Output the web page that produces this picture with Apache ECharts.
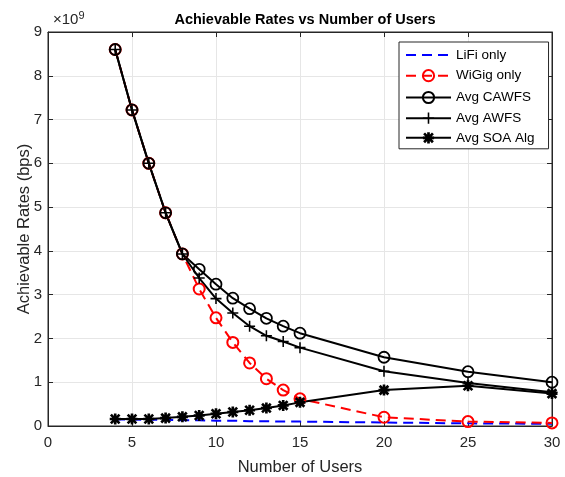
<!DOCTYPE html>
<html>
<head>
<meta charset="utf-8">
<script src="https://cdn.jsdelivr.net/npm/echarts@6/dist/echarts.min.js"></script>
<style>html,body{margin:0;padding:0;background:#fff}#c{width:565px;height:477px}</style>
</head>
<body>
<div id="c"></div>
<script>
var users = [4,5,6,7,8,9,10,11,12,13,14,15,20,25,30];
var lifi   = [0.15e9,0.15e9,0.14e9,0.14e9,0.13e9,0.13e9,0.12e9,0.12e9,0.11e9,0.11e9,0.10e9,0.10e9,0.08e9,0.06e9,0.05e9];
var wigig  = [8.60e9,7.22e9,6.00e9,4.87e9,3.93e9,3.13e9,2.47e9,1.91e9,1.44e9,1.08e9,0.82e9,0.62e9,0.20e9,0.10e9,0.07e9];
var cawfs  = [8.60e9,7.22e9,6.00e9,4.87e9,3.93e9,3.58e9,3.24e9,2.92e9,2.68e9,2.46e9,2.28e9,2.12e9,1.57e9,1.24e9,1.00e9];
var awfs   = [8.60e9,7.22e9,6.00e9,4.87e9,3.93e9,3.38e9,2.91e9,2.58e9,2.28e9,2.06e9,1.93e9,1.79e9,1.25e9,0.98e9,0.77e9];
var soa    = [0.16e9,0.16e9,0.16e9,0.18e9,0.21e9,0.24e9,0.28e9,0.32e9,0.36e9,0.41e9,0.47e9,0.54e9,0.82e9,0.92e9,0.74e9];
var names  = ['LiFi only','WiGig only','Avg CAWFS','Avg AWFS','Avg SOA Alg'];
var xTicks = [0,5,10,15,20,25,30];

function pairs(xs, ys){ return xs.map(function(x,i){ return [x, ys[i]]; }); }

var plusPath = 'path://M4.3,0H5.7V4.3H10V5.7H5.7V10H4.3V5.7H0V4.3H4.3Z';
var starPath = 'path://M0,3.8H10V6.2H0Z M3.8,0H6.2V10H3.8Z M0.2,1.9L1.9,0.2L9.8,8.1L8.1,9.8Z M8.1,0.2L9.8,1.9L1.9,9.8L0.2,8.1Z';

var font = 'Liberation Sans, Arial, Helvetica, sans-serif';
var axisCol = '#262626';
var dash = [10, 6];

var chart = echarts.init(document.getElementById('c'));
chart.setOption({
  animation: false,
  backgroundColor: '#fff',
  title: {
    text: 'Achievable Rates vs Number of Users',
    left: 300, top: 7, textAlign: 'center',
    textStyle: { fontFamily: font, fontSize: 14.5, fontWeight: 'bold', color: '#000' }
  },
  graphic: [{
    type: 'text', left: 53, top: 10,
    style: {
      text: '{a|×10}{b|9}',
      rich: {
        a: { fontFamily: font, fontSize: 15, fill: axisCol },
        b: { fontFamily: font, fontSize: 11, fill: axisCol, verticalAlign: 'top', padding: [0,0,9,0] }
      }
    }
  }],
  grid: { left: 48, right: 13, top: 32, bottom: 51, outerBoundsMode: 'none', containLabel: false,
    show: true, borderColor: axisCol, borderWidth: 1, backgroundColor: '#fff' },
  legend: {
    orient: 'vertical', left: 399, top: 42,
    backgroundColor: '#fff', borderColor: axisCol, borderWidth: 1, borderRadius: 0,
    padding: [6, 14, 4, 6],
    itemWidth: 45, itemHeight: 14, itemGap: 5.6,
    textStyle: { fontFamily: font, fontSize: 13.5, color: '#000' },
    data: [
      { name: names[0], itemStyle: { opacity: 0 } },
      names[1], names[2], names[3], names[4]
    ]
  },
  xAxis: [{
    type: 'value', min: 0, max: 30, interval: 5,
    name: 'Number of Users', nameLocation: 'middle', nameGap: 33, nameMoveOverlap: false,
    nameTextStyle: { fontFamily: font, fontSize: 16.5, color: axisCol },
    axisLine: { show: true, onZero: false, lineStyle: { color: axisCol, width: 1 } },
    axisTick: { show: true, inside: true, length: 5, lineStyle: { color: axisCol } },
    axisLabel: { fontFamily: font, fontSize: 15, color: axisCol, margin: 9,
      formatter: function(v){ return xTicks.indexOf(v) >= 0 ? String(v) : ''; } },
    splitLine: { show: true, lineStyle: { color: '#e6e6e6', width: 1 } }
  }, {
    type: 'value', min: 0, max: 30, interval: 5, position: 'top',
    axisLine: { show: true, onZero: false, lineStyle: { color: axisCol } },
    axisTick: { show: true, inside: true, length: 5, lineStyle: { color: axisCol } },
    axisLabel: { show: false }, splitLine: { show: false }
  }],
  yAxis: [{
    type: 'value', min: 0, max: 9e9, interval: 1e9,
    name: 'Achievable Rates (bps)', nameLocation: 'middle', nameGap: 15, nameMoveOverlap: false,
    nameTextStyle: { fontFamily: font, fontSize: 16.5, color: axisCol },
    axisLine: { show: true, onZero: false, lineStyle: { color: axisCol, width: 1 } },
    axisTick: { show: true, inside: true, length: 5, lineStyle: { color: axisCol } },
    axisLabel: { fontFamily: font, fontSize: 15, color: axisCol, margin: 6,
      formatter: function(v){ return String(Math.round(v / 1e9)); } },
    splitLine: { show: true, lineStyle: { color: '#e6e6e6', width: 1 } }
  }, {
    type: 'value', min: 0, max: 9e9, interval: 1e9, position: 'right',
    axisLine: { show: true, onZero: false, lineStyle: { color: axisCol } },
    axisTick: { show: true, inside: true, length: 5, lineStyle: { color: axisCol } },
    axisLabel: { show: false }, splitLine: { show: false }
  }],
  series: [{
    name: names[0], type: 'line', data: pairs(users, lifi),
    symbol: 'none', lineStyle: { color: '#0000ff', width: 2, type: dash },
    itemStyle: { color: '#0000ff' }
  }, {
    name: names[1], type: 'line', data: pairs(users, wigig),
    symbol: 'circle', symbolSize: 11, showAllSymbol: true,
    lineStyle: { color: '#ff0000', width: 2, type: dash },
    itemStyle: { color: 'none', borderColor: '#ff0000', borderWidth: 2 }
  }, {
    name: names[2], type: 'line', data: pairs(users, cawfs),
    symbol: 'circle', symbolSize: 11, showAllSymbol: true,
    lineStyle: { color: '#000', width: 2 },
    itemStyle: { color: 'none', borderColor: '#000', borderWidth: 1.8 }
  }, {
    name: names[3], type: 'line', data: pairs(users, awfs),
    symbol: plusPath, symbolSize: 11, showAllSymbol: true,
    lineStyle: { color: '#000', width: 2 },
    itemStyle: { color: '#000' }
  }, {
    name: names[4], type: 'line', data: pairs(users, soa),
    symbol: starPath, symbolSize: 11, showAllSymbol: true,
    lineStyle: { color: '#000', width: 2 },
    itemStyle: { color: '#000' }
  }]
});
</script>
</body>
</html>
